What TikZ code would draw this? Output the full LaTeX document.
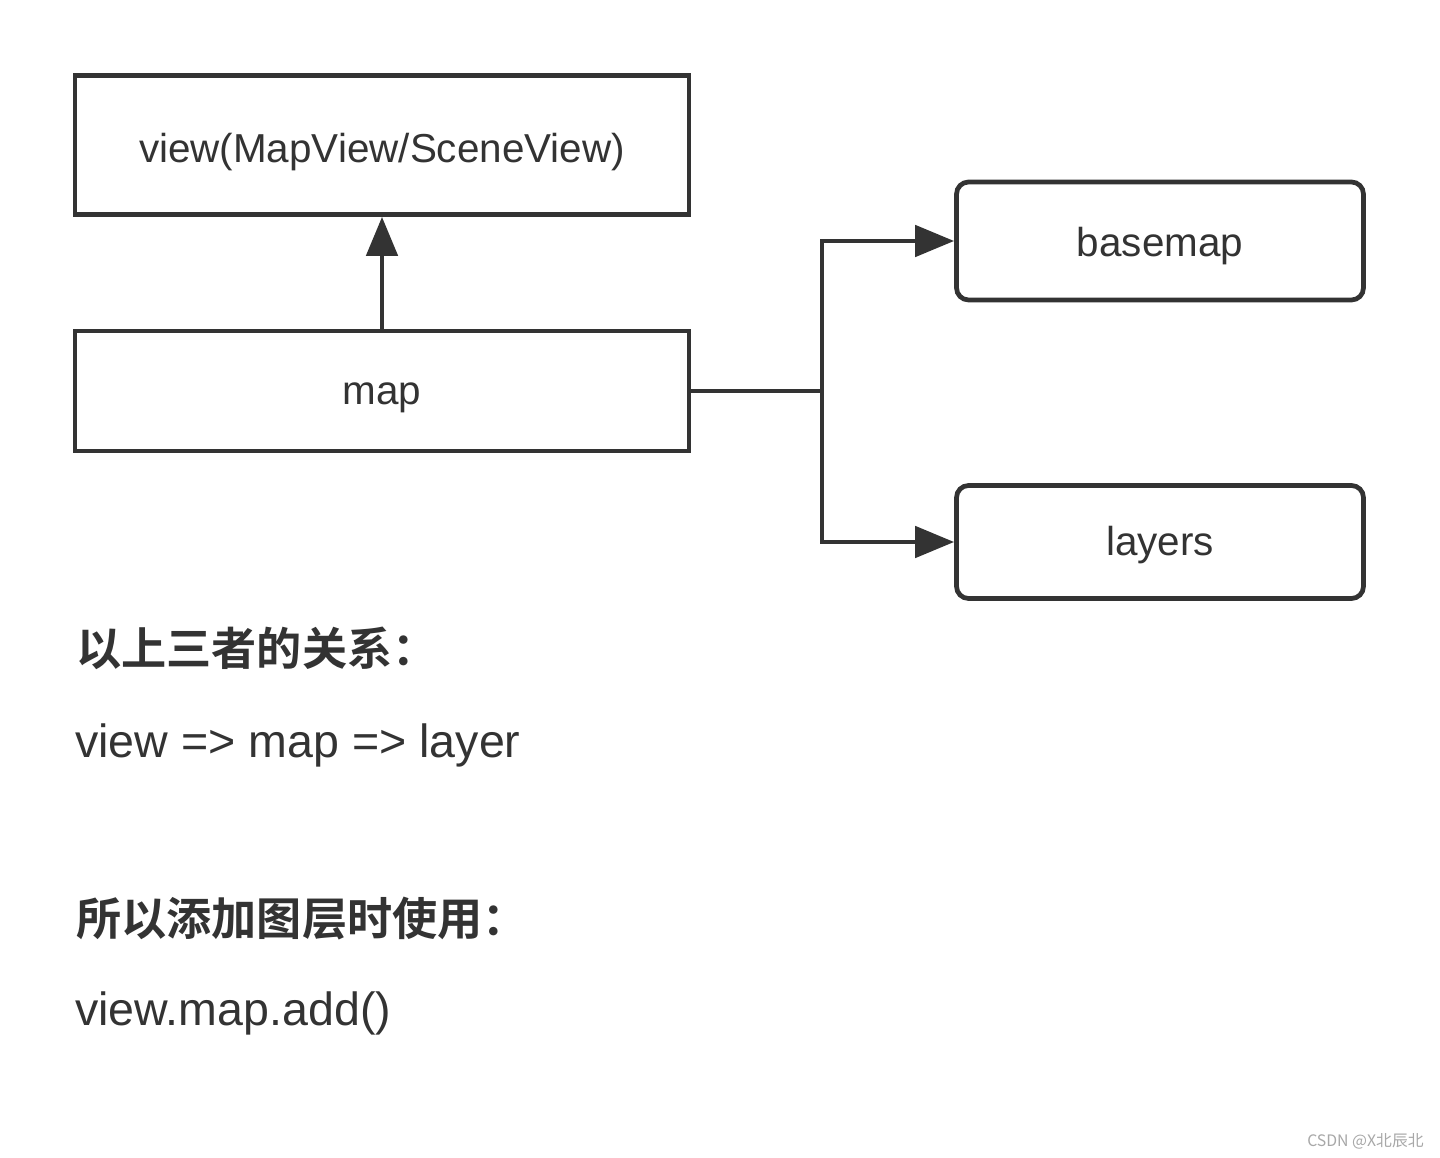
\documentclass[tikz,border=0pt]{standalone}
\usepackage{fontspec}
\setmainfont{Liberation Sans}
\newfontfamily\cjk{Noto Sans CJK SC}
\newfontfamily\cjkb{Noto Sans CJK SC Bold}
\usetikzlibrary{arrows.meta}
\definecolor{ink}{HTML}{333333}
\definecolor{wm}{HTML}{A8A8A8}
\begin{document}
\begin{tikzpicture}[x=0.02cm,y=-0.02cm,
  box/.style={draw=ink,line width=0.095cm,inner sep=0pt},
  rbox/.style={box,rounded corners=0.24cm},
  boxtext/.style={anchor=base,text=ink,inner sep=0pt,
    font=\fontsize{23}{27}\selectfont},
  conn/.style={draw=ink,line width=0.095cm,
    -{Triangle[length=0.78cm,width=0.62cm]}},
  body/.style={anchor=base west,text=ink,inner sep=0pt,
    font=\fontsize{26.5}{31}\selectfont},
  head/.style={anchor=base west,text=ink,inner sep=0pt,
    font=\cjkb\fontsize{25.7}{30}\selectfont}]
\useasboundingbox[fill=white] (0,0) rectangle (1440,1158);
\node[box,minimum width=12.28cm,minimum height=2.78cm] (view) at (382,145) {};
\node[box,minimum width=12.28cm,minimum height=2.40cm] (map) at (382,391) {};
\node[rbox,minimum width=8.14cm,minimum height=2.36cm] (basemap) at (1160,241) {};
\node[rbox,minimum width=8.14cm,minimum height=2.26cm] (layers) at (1160,542) {};
\node[boxtext] (viewt) at (382,163) {view(MapView/SceneView)};
\node[boxtext] (mapt) at (382,405) {map};
\node[boxtext] (basemapt) at (1160,257) {basemap};
\node[boxtext] (layerst) at (1160,556) {layers};
\coordinate (j) at (822,391);
\draw[conn] (map.north) -- (view.south);
\draw[draw=ink,line width=0.095cm] (map.east) -- (j);
\draw[conn] (j) |- (basemap.west);
\draw[conn] (j) |- (layers.west);
\node[head] (h1) at (76,665) {以上三者的关系：};
\node[body] (t1) at (75,757) {view => map => layer};
\node[head] (h2) at (76,935) {所以添加图层时使用：};
\node[body] (t2) at (75,1025) {view.map.add()};
\node[anchor=base east,text=wm,inner sep=0pt,font=\cjk\fontsize{9}{11}\selectfont] (wm) at (1424,1146) {CSDN @X北辰北};
\end{tikzpicture}
\end{document}
